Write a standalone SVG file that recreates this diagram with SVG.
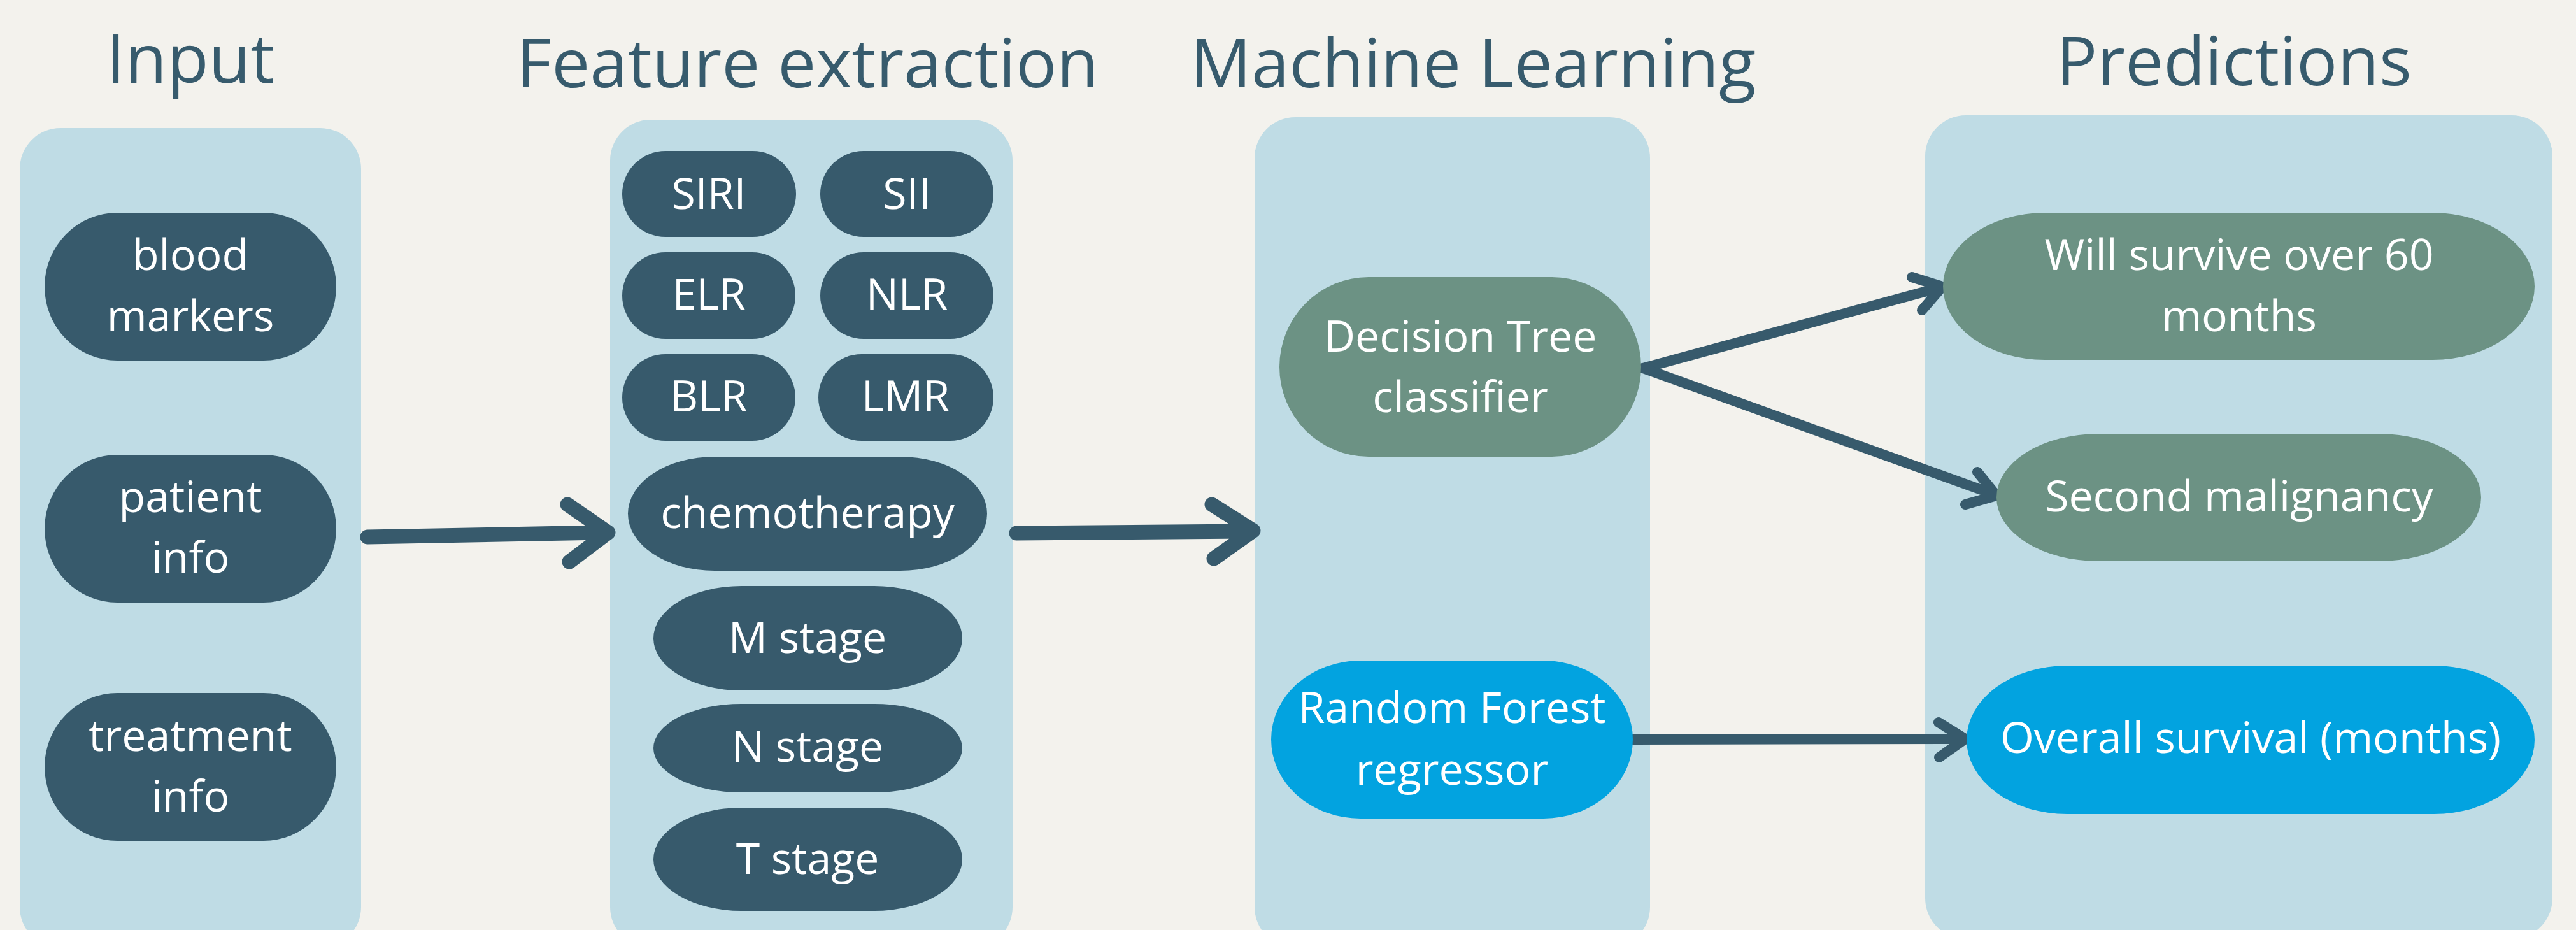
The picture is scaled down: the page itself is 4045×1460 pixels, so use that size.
<svg xmlns="http://www.w3.org/2000/svg" width="4045" height="1460" viewBox="0 0 4045 1460">
  <style>
    .bg { fill: #F3F2ED; }
    .panel { fill: #BFDCE5; }
    .title { fill: #375B6D; font-family: "Open Sans", "Noto Sans", sans-serif; font-size: 107px; text-anchor: middle; }
    .dark { fill: #375A6C; }
    .green { fill: #6C9284; }
    .blue { fill: #02A3E0; }
    .label { fill: #FFFFFF; font-family: "Open Sans", "Noto Sans", sans-serif; font-size: 68px; text-anchor: middle; }
    .conn { fill: none; stroke: #375A6C; stroke-linecap: round; stroke-linejoin: round; }
    .thick { stroke-width: 23; }
    .thin { stroke-width: 16; }
  </style>

  <rect class="bg" x="0" y="0" width="4045" height="1460"/>

  <!-- column panels -->
  <g id="panels">
    <rect class="panel" x="31" y="201" width="536" height="1287" rx="64" ry="64"/>
    <rect class="panel" x="958" y="188" width="632" height="1300" rx="64" ry="64"/>
    <rect class="panel" x="1970" y="184" width="621" height="1304" rx="64" ry="64"/>
    <rect class="panel" x="3023" y="181" width="985" height="1293" rx="64" ry="64"/>
  </g>

  <!-- column headings -->
  <g id="titles">
    <text class="title" x="299" y="130">Input</text>
    <text class="title" x="1268" y="137">Feature extraction</text>
    <text class="title" x="2313" y="137">Machine Learning</text>
    <text class="title" x="3508" y="134">Predictions</text>
  </g>

  <!-- connectors -->
  <g id="connectors">
    <path class="conn thick" d="M577 843 L945 836 M891 792 L955 836 L894 882"/>
    <path class="conn thick" d="M1596 837 L1958 834 M1903 792 L1968 833 L1906 877"/>
    <path class="conn thin" d="M2580 578 L3044 452 M3002 435 L3050 450 L3018 487"/>
    <path class="conn thin" d="M2580 578 L3128 775 M3105 741 L3135 778 L3086 792"/>
    <path class="conn thin" d="M2564 1161 L3080 1160 M3044 1134 L3086 1160 L3045 1189"/>
  </g>

  <!-- input nodes -->
  <g id="blood-markers">
    <rect class="dark" x="70" y="334" width="458" height="232" rx="114" ry="116"/>
    <text class="label" x="299" y="424">blood</text>
    <text class="label" x="299" y="520">markers</text>
  </g>
  <g id="patient-info">
    <rect class="dark" x="70" y="714" width="458" height="232" rx="114" ry="116"/>
    <text class="label" x="299" y="804">patient</text>
    <text class="label" x="299" y="899">info</text>
  </g>
  <g id="treatment-info">
    <rect class="dark" x="70" y="1088" width="458" height="232" rx="114" ry="116"/>
    <text class="label" x="299" y="1179">treatment</text>
    <text class="label" x="299" y="1274">info</text>
  </g>

  <!-- feature nodes -->
  <g id="siri">
    <rect class="dark" x="977" y="237" width="273" height="135" rx="68" ry="67.5"/>
    <text class="label" x="1113" y="328">SIRI</text>
  </g>
  <g id="sii">
    <rect class="dark" x="1288" y="237" width="272" height="135" rx="68" ry="67.5"/>
    <text class="label" x="1424" y="328">SII</text>
  </g>
  <g id="elr">
    <rect class="dark" x="977" y="396" width="272" height="136" rx="68" ry="68"/>
    <text class="label" x="1113" y="486">ELR</text>
  </g>
  <g id="nlr">
    <rect class="dark" x="1288" y="396" width="272" height="136" rx="68" ry="68"/>
    <text class="label" x="1424" y="486">NLR</text>
  </g>
  <g id="blr">
    <rect class="dark" x="977" y="556" width="272" height="136" rx="68" ry="68"/>
    <text class="label" x="1113" y="646">BLR</text>
  </g>
  <g id="lmr">
    <rect class="dark" x="1285" y="556" width="275" height="136" rx="68" ry="68"/>
    <text class="label" x="1422" y="646">LMR</text>
  </g>
  <g id="chemotherapy">
    <rect class="dark" x="986" y="717" width="564" height="179" rx="136" ry="89.5"/>
    <text class="label" x="1268" y="829">chemotherapy</text>
  </g>
  <g id="m-stage">
    <rect class="dark" x="1026" y="920" width="485" height="164" rx="138" ry="82"/>
    <text class="label" x="1268" y="1025">M stage</text>
  </g>
  <g id="n-stage">
    <rect class="dark" x="1026" y="1105" width="485" height="139" rx="138" ry="69.5"/>
    <text class="label" x="1268" y="1196">N stage</text>
  </g>
  <g id="t-stage">
    <rect class="dark" x="1026" y="1268" width="485" height="162" rx="138" ry="81"/>
    <text class="label" x="1268" y="1372">T stage</text>
  </g>

  <!-- models -->
  <g id="decision-tree">
    <rect class="green" x="2009" y="435" width="568" height="282" rx="140" ry="141"/>
    <text class="label" x="2293" y="552">Decision Tree</text>
    <text class="label" x="2293" y="647">classifier</text>
  </g>
  <g id="random-forest">
    <rect class="blue" x="1996" y="1037" width="568" height="248" rx="140" ry="124"/>
    <text class="label" x="2280" y="1135">Random Forest</text>
    <text class="label" x="2280" y="1232">regressor</text>
  </g>

  <!-- outputs -->
  <g id="survive-60">
    <rect class="green" x="3051" y="334" width="929" height="231" rx="160" ry="115.5"/>
    <text class="label" x="3516" y="424">Will survive over 60</text>
    <text class="label" x="3516" y="520">months</text>
  </g>
  <g id="second-malignancy">
    <rect class="green" x="3135" y="681" width="761" height="200" rx="160" ry="100"/>
    <text class="label" x="3516" y="803">Second malignancy</text>
  </g>
  <g id="overall-survival">
    <rect class="blue" x="3088" y="1045" width="892" height="233" rx="158" ry="116.5"/>
    <text class="label" x="3534" y="1182">Overall survival (months)</text>
  </g>
</svg>
